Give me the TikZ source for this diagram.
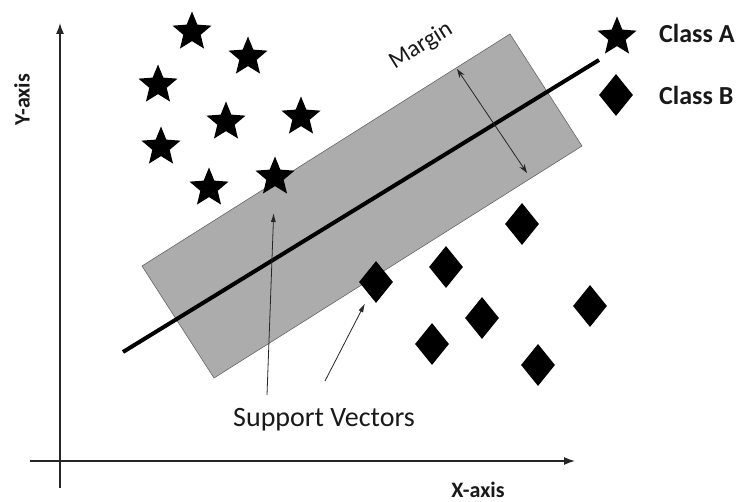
\documentclass[tikz,border=0pt]{standalone}
\usepackage{fontspec}
\setmainfont{Carlito}
\usetikzlibrary{shapes.geometric,arrows.meta,calc}
\begin{document}
\begin{tikzpicture}[x=1pt,y=-1pt,
  starnode/.style={star,star points=5,star point ratio=2.25,minimum size=41pt,inner sep=0pt,fill=black,draw=none},
  dia/.style={diamond,minimum width=34pt,minimum height=42pt,inner sep=0pt,fill=black,draw=none},
  lbl/.style={text=black!90,inner sep=0pt},
  axis/.style={line width=1.3pt,draw=black!85,-{Latex[length=11pt,width=8pt]}},
  ptr/.style={line width=0.8pt,draw=black!85,-{Latex[length=9pt,width=5pt]}},
  marg/.style={line width=0.8pt,draw=black!85,{Stealth[length=9pt,width=6pt]}-{Stealth[length=9pt,width=6pt]}}]
\useasboundingbox (0,0) rectangle (739,502);
\fill[white] (0,0) rectangle (739,502);
% axes
\coordinate (yb) at (60,488);
\coordinate (yt) at (60,23);
\coordinate (xl) at (30,461);
\coordinate (xr) at (575,461);
\draw[axis] (yb) -- (yt);
\draw[axis] (xl) -- (xr);
\node[lbl,rotate=90,font=\fontsize{22}{26}\selectfont\bfseries] (ylab) at (22,100) {Y-axis};
\node[lbl,font=\fontsize{22}{26}\selectfont\bfseries] (xlab) at (478,490) {X-axis};
% margin band
\coordinate (r1) at (142,266);
\coordinate (r2) at (510,34);
\coordinate (r3) at (582,146);
\coordinate (r4) at (214,378);
\filldraw[fill=gray!65,draw=gray!80!black,line width=0.6pt] (r1) -- (r2) -- (r3) -- (r4) -- cycle;
% hyperplane
\coordinate (h1) at (123,352);
\coordinate (h2) at (599,60);
\draw[line width=4pt,black] (h1) -- (h2);
% margin arrow
\coordinate (m1) at (457,69);
\coordinate (m2) at (527,173);
\draw[marg] (m1) -- (m2);
\node[lbl,rotate=32,font=\fontsize{24}{28}\selectfont] (mlab) at (421,46) {Margin};
% class A stars
\node[starnode] (s1) at (192,32) {};
\node[starnode] (s2) at (248,57) {};
\node[starnode] (s3) at (158,85) {};
\node[starnode] (s4) at (226,122) {};
\node[starnode] (s5) at (301,117) {};
\node[starnode] (s6) at (161,147) {};
\node[starnode] (s7) at (209,188) {};
\node[starnode] (s8) at (275,177) {};
% class B diamonds
\node[dia] (d0) at (376,282) {};
\node[dia] (d1) at (522,224) {};
\node[dia] (d2) at (446,267) {};
\node[dia] (d3) at (590,306) {};
\node[dia] (d4) at (482,318) {};
\node[dia] (d5) at (432,344) {};
\node[dia] (d6) at (538,365) {};
% legend
\node[starnode] (legA) at (617,37) {};
\node[dia] (legB) at (616,95) {};
\node[lbl,anchor=west,font=\fontsize{26}{30}\selectfont\bfseries] (tA) at (659,33) {Class A};
\node[lbl,anchor=west,font=\fontsize{26}{30}\selectfont\bfseries] (tB) at (659,95) {Class B};
% support vectors
\node[lbl,font=\fontsize{28}{32}\selectfont] (sv) at (324,420) {Support Vectors};
\coordinate (p1) at (267,395);
\coordinate (p2) at (325,381);
\draw[ptr,shorten >=36pt] (p1) -- (s8.center);
\draw[ptr,shorten >=24pt] (p2) -- (d0.center);
\end{tikzpicture}
\end{document}
